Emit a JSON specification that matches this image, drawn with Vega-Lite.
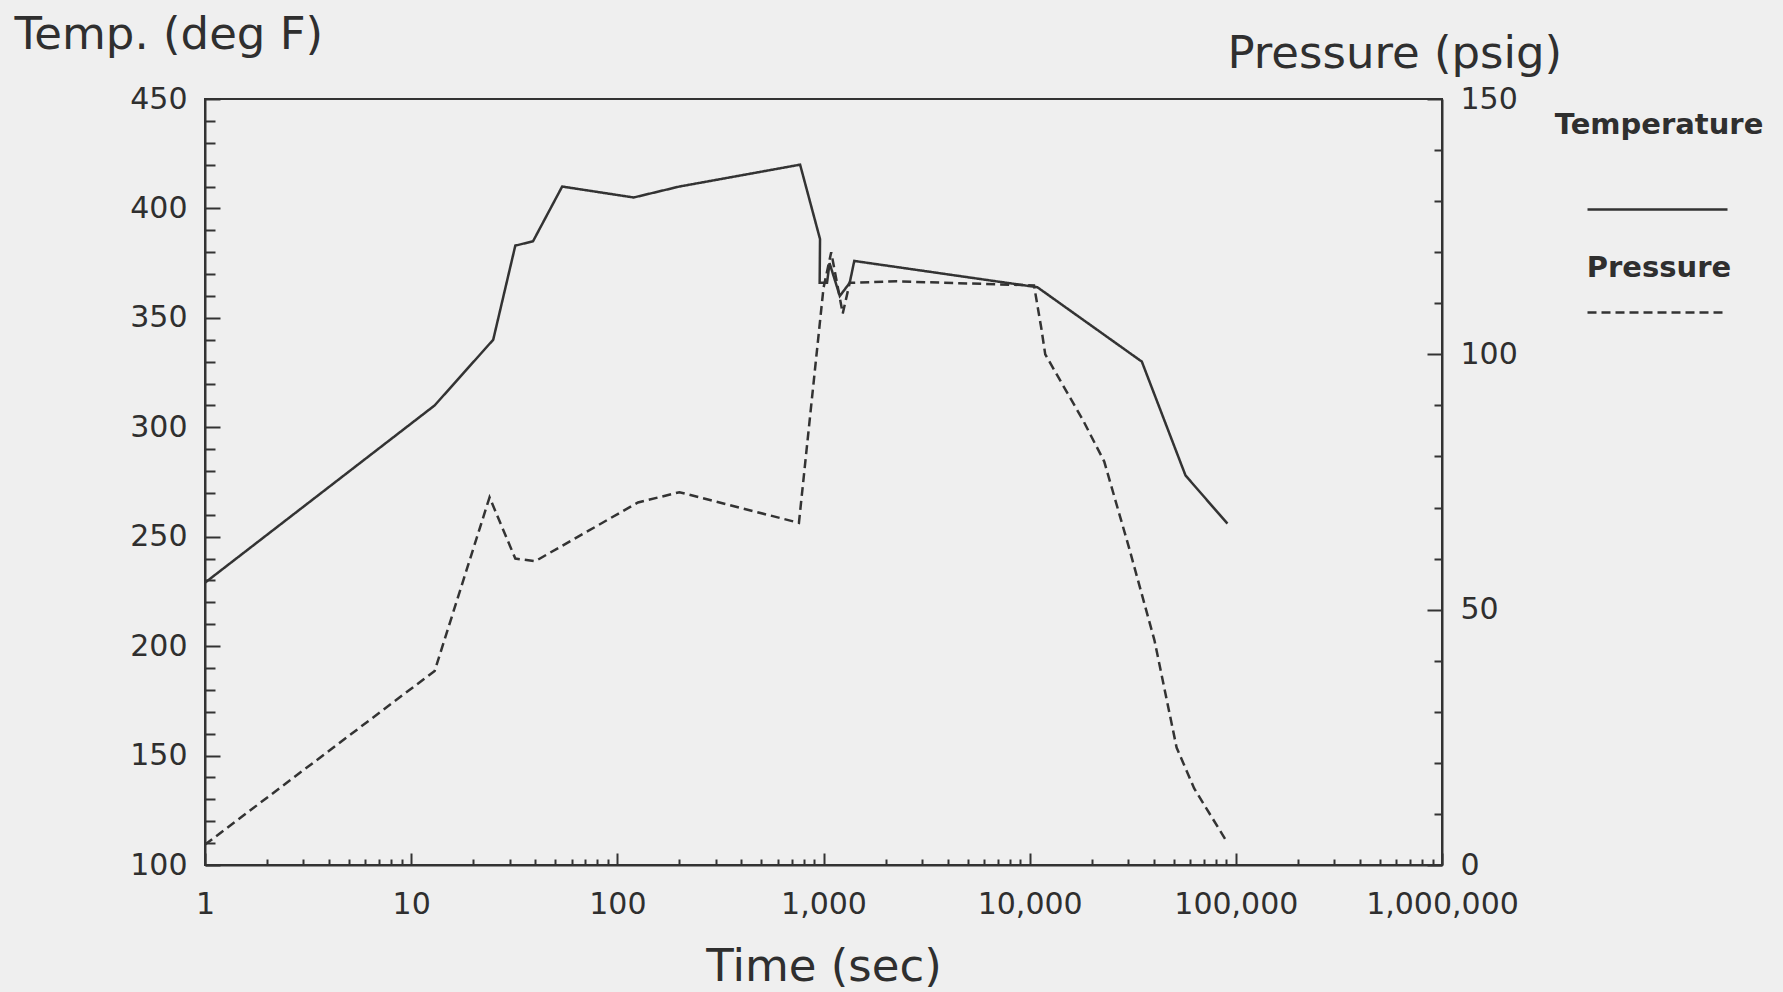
{
  "$schema": "https://vega.github.io/schema/vega-lite/v6.json",
  "width": 1237,
  "height": 766,
  "autosize": {"type": "none"},
  "padding": {"left": 205, "top": 99, "right": 341, "bottom": 127},
  "background": "#efefef",
  "config": {
    "font": "DejaVu Sans",
    "view": {"stroke": "#333333", "strokeWidth": 2},
    "axis": {"grid": false, "domainColor": "#333333", "domainWidth": 2, "tickColor": "#333333", "tickWidth": 2, "labelColor": "#2f2f2f", "titleColor": "#2f2f2f", "labelFont": "DejaVu Sans", "titleFont": "DejaVu Sans", "labelFontSize": 30, "titleFontSize": 45, "titleFontWeight": "normal", "labelFlush": false, "labelOverlap": false, "labelBound": false},
    "legend": {"orient": "none", "legendX": 1381, "legendY": 39, "padding": 0, "symbolType": "stroke", "symbolSize": 19600, "symbolStrokeWidth": 2.5, "symbolStrokeColor": "#333333", "labelFont": "DejaVu Sans", "labelFontSize": 29, "labelFontWeight": "bold", "labelColor": "#2f2f2f", "labelAlign": "center", "labelOffset": -70, "labelBaseline": "middle", "labelLimit": 500, "rowPadding": 26}
  },
  "data": {"values": [
    {"series": "Temperature", "i": 1, "t": 1, "v": 229},
    {"series": "Temperature", "i": 2, "t": 13, "v": 310},
    {"series": "Temperature", "i": 3, "t": 25, "v": 340},
    {"series": "Temperature", "i": 4, "t": 32, "v": 383},
    {"series": "Temperature", "i": 5, "t": 39, "v": 385},
    {"series": "Temperature", "i": 6, "t": 54, "v": 410},
    {"series": "Temperature", "i": 7, "t": 120, "v": 405},
    {"series": "Temperature", "i": 8, "t": 200, "v": 410},
    {"series": "Temperature", "i": 9, "t": 770, "v": 420},
    {"series": "Temperature", "i": 10, "t": 962, "v": 386},
    {"series": "Temperature", "i": 11, "t": 958, "v": 366},
    {"series": "Temperature", "i": 12, "t": 1040, "v": 366},
    {"series": "Temperature", "i": 13, "t": 1070, "v": 375},
    {"series": "Temperature", "i": 14, "t": 1200, "v": 360},
    {"series": "Temperature", "i": 15, "t": 1340, "v": 366},
    {"series": "Temperature", "i": 16, "t": 1410, "v": 376},
    {"series": "Temperature", "i": 17, "t": 10900, "v": 364},
    {"series": "Temperature", "i": 18, "t": 35000, "v": 330},
    {"series": "Temperature", "i": 19, "t": 57000, "v": 278},
    {"series": "Temperature", "i": 20, "t": 91000, "v": 256},
    {"series": "Pressure", "i": 1, "t": 1, "v": 4},
    {"series": "Pressure", "i": 2, "t": 13, "v": 38},
    {"series": "Pressure", "i": 3, "t": 24, "v": 72},
    {"series": "Pressure", "i": 4, "t": 32, "v": 60},
    {"series": "Pressure", "i": 5, "t": 40, "v": 59.5},
    {"series": "Pressure", "i": 6, "t": 126, "v": 71},
    {"series": "Pressure", "i": 7, "t": 200, "v": 73},
    {"series": "Pressure", "i": 8, "t": 760, "v": 67},
    {"series": "Pressure", "i": 9, "t": 1000, "v": 113},
    {"series": "Pressure", "i": 10, "t": 1090, "v": 120},
    {"series": "Pressure", "i": 11, "t": 1240, "v": 108},
    {"series": "Pressure", "i": 12, "t": 1340, "v": 114},
    {"series": "Pressure", "i": 13, "t": 2270, "v": 114.3},
    {"series": "Pressure", "i": 14, "t": 10500, "v": 113.5},
    {"series": "Pressure", "i": 15, "t": 11400, "v": 105},
    {"series": "Pressure", "i": 16, "t": 11900, "v": 100},
    {"series": "Pressure", "i": 17, "t": 18200, "v": 87},
    {"series": "Pressure", "i": 18, "t": 23000, "v": 79},
    {"series": "Pressure", "i": 19, "t": 30400, "v": 62},
    {"series": "Pressure", "i": 20, "t": 40300, "v": 44},
    {"series": "Pressure", "i": 21, "t": 51600, "v": 23},
    {"series": "Pressure", "i": 22, "t": 62800, "v": 15},
    {"series": "Pressure", "i": 23, "t": 89000, "v": 5}
  ]},
  "encoding": {
    "x": {
      "field": "t", "type": "quantitative",
      "scale": {"type": "log", "domain": [1, 1000000], "nice": false},
      "axis": {
        "title": "Time (sec)",
        "titlePadding": 19,
        "format": ",d",
        "values": [1,2,3,4,5,6,7,8,9,10,20,30,40,50,60,70,80,90,100,200,300,400,500,600,700,800,900,1000,2000,3000,4000,5000,6000,7000,8000,9000,10000,20000,30000,40000,50000,60000,70000,80000,90000,100000,200000,300000,400000,500000,600000,700000,800000,900000,1000000],
        "labelExpr": "indexof([1,10,100,1000,10000,100000,1000000], datum.value) >= 0 ? datum.label : ''",
        "tickSize": {"condition": {"test": "indexof([1,10,100,1000,10000,100000,1000000], datum.value) >= 0", "value": -12}, "value": -6},
        "labelPadding": 36
      }
    },
    "strokeDash": {
      "field": "series", "type": "nominal",
      "scale": {"domain": ["Temperature", "Pressure"], "range": [[1, 0], [9, 5]]},
      "legend": {"title": null, "encode": {"labels": {"update": {"dy": {"signal": "datum.value === 'Temperature' ? -85 : -45"}}}}}
    },
    "order": {"field": "i", "type": "quantitative"}
  },
  "layer": [
    {
      "transform": [{"filter": "datum.series === 'Temperature'"}],
      "mark": {"type": "line", "color": "#333333", "strokeWidth": 2.5},
      "encoding": {
        "y": {
          "field": "v", "type": "quantitative",
          "scale": {"domain": [100, 450], "nice": false, "zero": false},
          "axis": {
            "orient": "left",
            "title": "Temp. (deg F)",
            "titleAngle": 0, "titleAlign": "left", "titleBaseline": "alphabetic",
            "titleX": -191, "titleY": -51,
            "values": [100,110,120,130,140,150,160,170,180,190,200,210,220,230,240,250,260,270,280,290,300,310,320,330,340,350,360,370,380,390,400,410,420,430,440,450],
            "format": "d",
            "labelExpr": "datum.value % 50 == 0 ? datum.label : ''",
            "tickSize": {"condition": {"test": "datum.value % 50 == 0", "value": -15}, "value": -10},
            "labelPadding": 33
          }
        }
      }
    },
    {
      "transform": [{"filter": "datum.series === 'Pressure'"}],
      "mark": {"type": "line", "color": "#333333", "strokeWidth": 2.5},
      "encoding": {
        "y": {
          "field": "v", "type": "quantitative",
          "scale": {"domain": [0, 150], "nice": false, "zero": false},
          "axis": {
            "orient": "right",
            "title": "Pressure (psig)",
            "titleAngle": 0, "titleAlign": "left", "titleBaseline": "alphabetic",
            "titleX": -215, "titleY": -32,
            "values": [0,10,20,30,40,50,60,70,80,90,100,110,120,130,140,150],
            "format": "d",
            "labelExpr": "datum.value % 50 == 0 ? datum.label : ''",
            "tickSize": {"condition": {"test": "datum.value % 50 == 0", "value": -15}, "value": -8},
            "labelPadding": 33
          }
        }
      }
    }
  ],
  "resolve": {"scale": {"y": "independent"}}
}
